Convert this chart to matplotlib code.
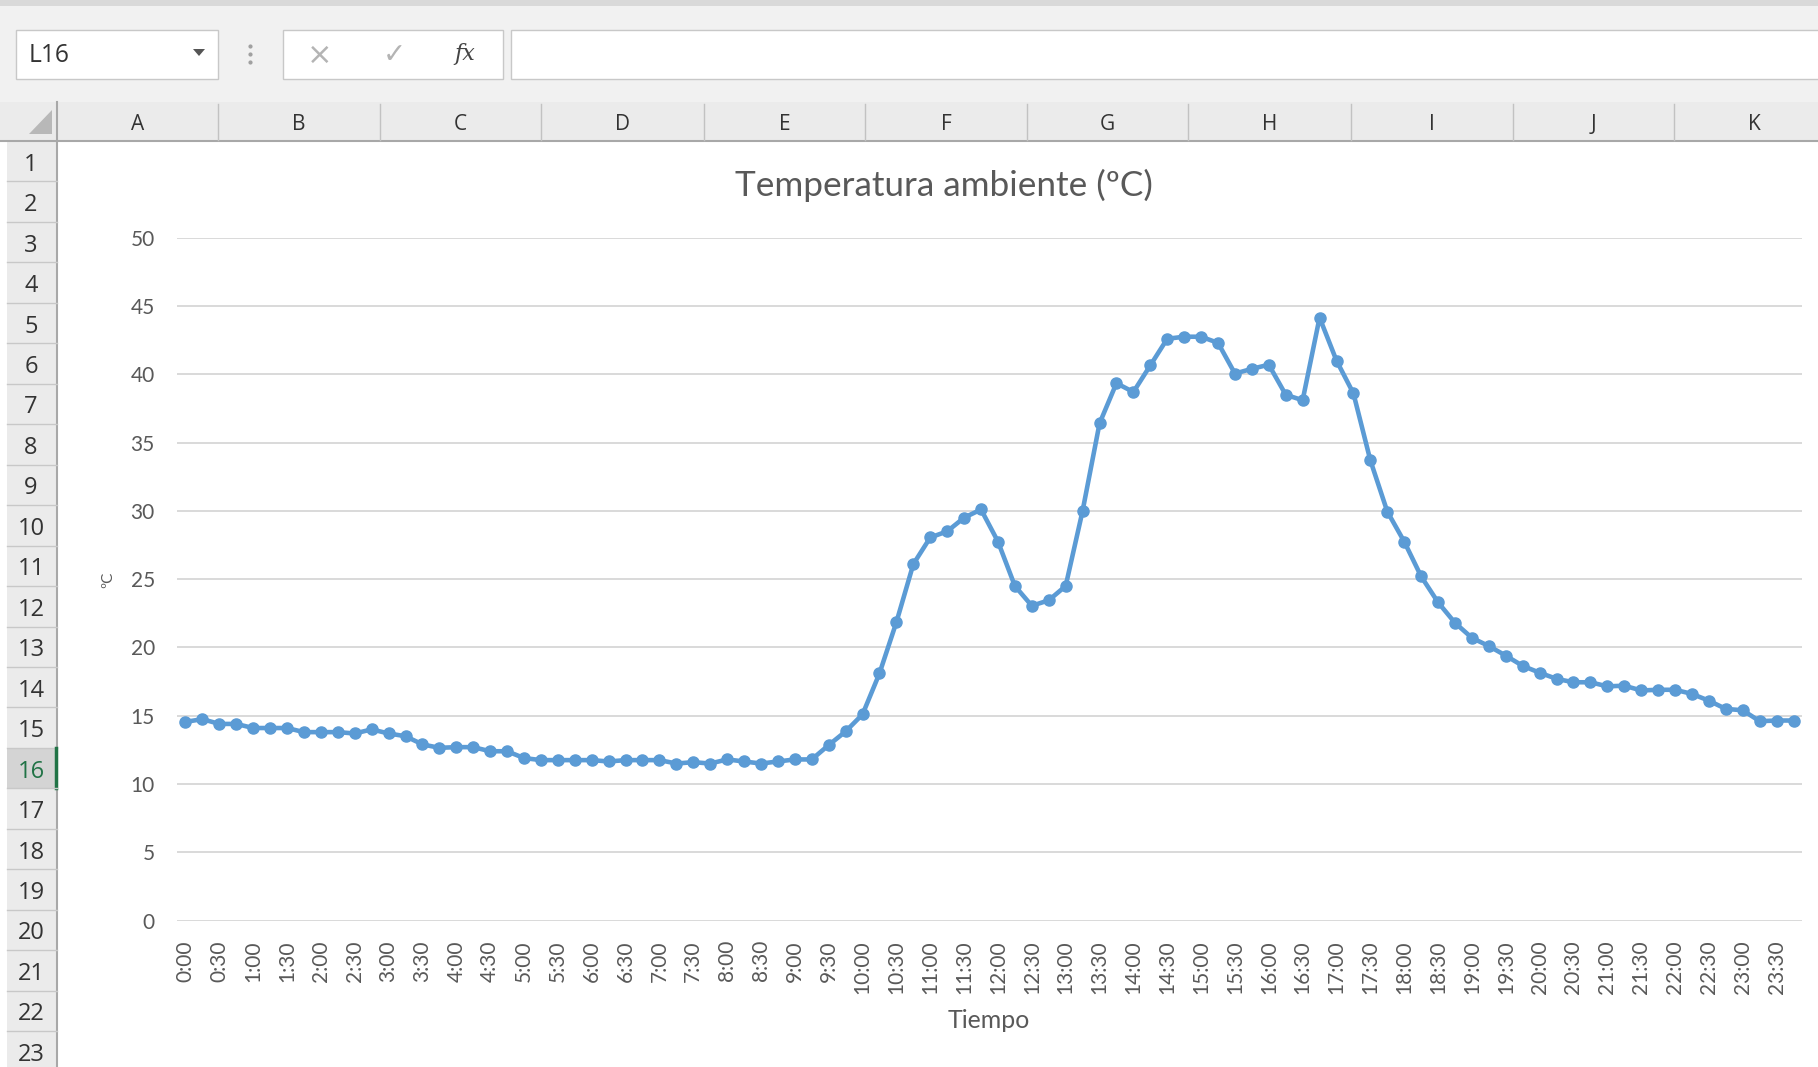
import matplotlib
matplotlib.use('Agg')
import matplotlib.pyplot as plt
from matplotlib.patches import Rectangle, Polygon

# temperatura cada 15 minutos (0:00 - 23:45)
temperatura = [14.55, 14.75, 14.4, 14.4, 14.1, 14.1, 14.1, 13.8, 13.8, 13.8, 13.7, 14.0,
               13.7, 13.5, 12.9, 12.65, 12.7, 12.7, 12.4, 12.4, 11.9, 11.75, 11.75, 11.75,
               11.75, 11.65, 11.75, 11.75, 11.75, 11.5, 11.6, 11.5, 11.8, 11.65, 11.5, 11.65,
               11.8, 11.8, 12.85, 13.85, 15.1, 18.1, 21.85, 26.1, 28.05, 28.5, 29.5, 30.1,
               27.75, 24.5, 23.05, 23.45, 24.5, 30.0, 36.4, 39.35, 38.7, 40.65, 42.6, 42.75,
               42.75, 42.3, 40.05, 40.4, 40.7, 38.5, 38.1, 44.15, 41.0, 38.6, 33.7, 29.95,
               27.75, 25.2, 23.3, 21.8, 20.7, 20.1, 19.4, 18.65, 18.15, 17.7, 17.45, 17.45,
               17.15, 17.2, 16.85, 16.9, 16.9, 16.6, 16.1, 15.5, 15.4, 14.6, 14.65, 14.65]
tiempo = ['%d:%02d' % (h, m) for h in range(24) for m in (0, 15, 30, 45)]
yticks = [0, 5, 10, 15, 20, 25, 30, 35, 40, 45, 50]
columnas = ['A', 'B', 'C', 'D', 'E', 'F', 'G', 'H', 'I', 'J', 'K']
filas = list(range(1, 24))

W, H = 1818, 1067
fig = plt.figure(figsize=(W / 100, H / 100), dpi=100)
fig.patch.set_facecolor('white')
ui = 'Open Sans'
cf = 'Lato'
gris = '#595959'

def fit(t, w):
    r = fig.canvas.get_renderer()
    bb = t.get_window_extent(r)
    t.set_fontsize(t.get_fontsize() * w / bb.width)

# ---- interfaz de excel ----
bg = fig.add_axes([0, 0, 1, 1])
bg.set_xlim(0, W)
bg.set_ylim(H, 0)
bg.axis('off')

bg.add_patch(Rectangle((0, 0), W, 102, fc='#f1f1f1', ec='none'))
bg.add_patch(Rectangle((0, 0), W, 6, fc='#d9d9d9', ec='none'))
bg.add_patch(Rectangle((16, 30), 202, 49, fc='white', ec='#c8c8c8', lw=1))
t = bg.text(29, 56, 'L16', fontsize=15, family=ui, color='#333333', va='center')
fit(t, 41)
bg.add_patch(Polygon([(193, 49), (205, 49), (199, 56)], closed=True, fc='#555555', ec='none'))
for yy in (46, 54, 62):
    bg.plot(250, yy, 'o', ms=2, color='#a0a0a0')
bg.add_patch(Rectangle((283, 30), 220, 49, fc='white', ec='#c8c8c8', lw=1))
bg.text(320, 55, '\u00d7', fontsize=22, family='DejaVu Sans', color='#b4b4b4', ha='center', va='center')
bg.text(394, 55, '\u2713', fontsize=20, family='DejaVu Sans', color='#b4b4b4', ha='center', va='center')
bg.text(465, 54, 'fx', fontsize=16, family='DejaVu Serif', style='italic', color='#444444',
        ha='center', va='center')
bg.add_patch(Rectangle((511, 30), W, 49, fc='white', ec='#c8c8c8', lw=1))

# cabecera de columnas
bg.add_patch(Rectangle((0, 102), W, 39, fc='#ebebeb', ec='none'))
bg.plot([0, W], [141, 141], color='#a8a8a8', lw=1.5)
bordes = [57, 218, 380, 541, 704, 865, 1027, 1188, 1351, 1513, 1674, 1835]
for x in bordes[1:-1]:
    bg.plot([x, x], [104, 140], color='#c2c2c2', lw=1)
for i, c in enumerate(columnas):
    bg.text((bordes[i] + bordes[i + 1]) / 2, 124, c, fontsize=15, family=ui,
            color='#333333', ha='center', va='center')

# esquina y cabecera de filas
bg.add_patch(Rectangle((7, 102), 50, H - 102, fc='#ebebeb', ec='none'))
bg.add_patch(Polygon([(52, 110), (52, 134), (29, 134)], closed=True, fc='#b8b8b8', ec='none'))
bg.plot([57, 57], [102, H], color='#a8a8a8', lw=1.5)
alto = 40.46
for f in filas:
    y0 = 141 + (f - 1) * alto
    if f == 16:
        bg.add_patch(Rectangle((7, y0), 50, alto, fc='#d4d4d4', ec='none'))
        bg.plot([55.5, 55.5], [y0, y0 + alto], color='#217346', lw=2.5)
        col = '#217346'
    else:
        col = '#333333'
    bg.plot([7, 57], [y0 + alto, y0 + alto], color='#c8c8c8', lw=1)
    bg.text(31, y0 + alto / 2 + 3.5, str(f), fontsize=17, family=ui, color=col,
            ha='center', va='center')

# ---- grafico ----
ax = fig.add_axes([177 / W, (H - 920.6) / H, 1625 / W, 682.9 / H])
ax.set_facecolor('none')
x = list(range(len(temperatura)))
ax.plot(x, temperatura, color='#5b9bd5', lw=3.3, marker='o', ms=8,
        markerfacecolor='#5b9bd5', markeredgecolor='#5b9bd5', zorder=3)
ax.set_xlim(-0.5, len(temperatura) - 0.5)
ax.set_ylim(0, 50)
ax.set_yticks(yticks)
ax.set_yticklabels([str(v) for v in yticks], family=cf, fontsize=15, color=gris)
ax.set_xticks(x[::2])
ax.set_xticklabels(tiempo[::2], rotation=90, family=cf, fontsize=15, color=gris)
ax.tick_params(axis='both', length=0)
ax.tick_params(axis='x', pad=14)
ax.tick_params(axis='y', pad=16)
ax.grid(axis='y', color='#d9d9d9', lw=1.4)
ax.set_axisbelow(True)
for s in ax.spines.values():
    s.set_visible(False)

t = bg.text(944, 185, 'Temperatura ambiente (\u00baC)', fontsize=22, family=cf,
            color=gris, ha='center', va='center')
fit(t, 417)
t = bg.text(989, 1021, 'Tiempo', fontsize=15, family=cf, color=gris, ha='center', va='center')
fit(t, 82)
bg.text(108, 580, '\u00baC', fontsize=11, family=cf, color=gris, rotation=90,
        ha='center', va='center')

fig.savefig('out.png', dpi=100)
